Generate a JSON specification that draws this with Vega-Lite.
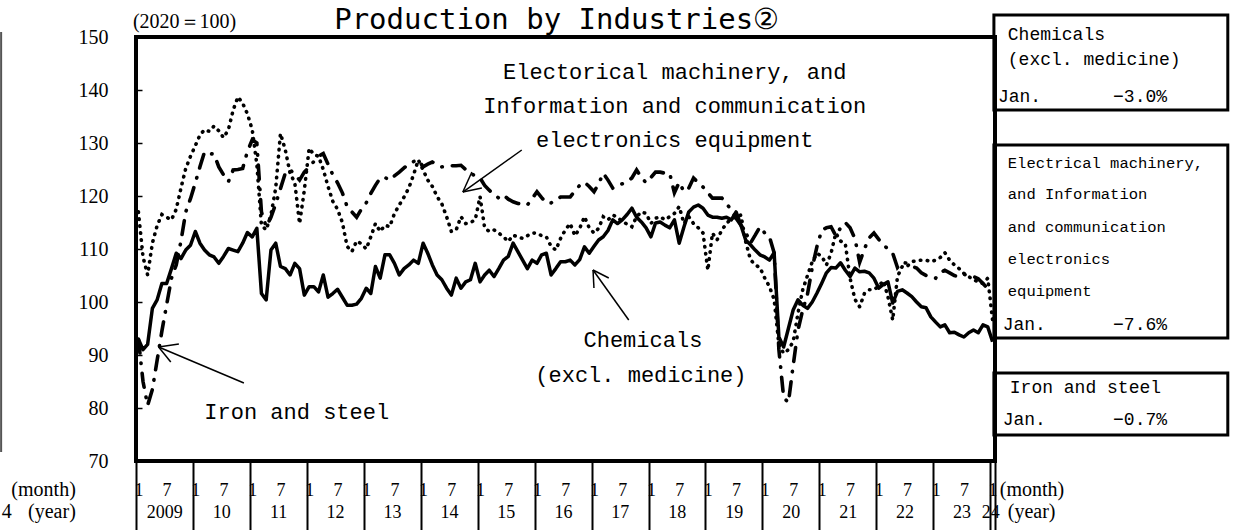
{
"$schema":"https://vega.github.io/schema/vega-lite/v6.json",
"autosize":"none",
"width":859,"height":424,
"padding":{"left":136,"top":37,"right":238,"bottom":69},
"background":"white",
"config":{"view":{"stroke":"black","strokeWidth":4},"axis":{"labelFont":"Liberation Serif","labelColor":"black","grid":false,"domain":false}},
"datasets":{
"series":[
{"date":"2009-01","chem":93,"elec":117,"iron":93},{"date":"2009-02","chem":91,"elec":108.5,"iron":85},{"date":"2009-03","chem":92,"elec":105.1,"iron":80.5},{"date":"2009-04","chem":98.8,"elec":111.1,"iron":83.5},{"date":"2009-05","chem":100.4,"elec":114.4,"iron":89},{"date":"2009-06","chem":103.5,"elec":116.5,"iron":94.5},{"date":"2009-07","chem":103.5,"elec":116,"iron":99.5},{"date":"2009-08","chem":106.3,"elec":115.5,"iron":104.5},{"date":"2009-09","chem":109.2,"elec":117.5,"iron":107},{"date":"2009-10","chem":108.2,"elec":121.5,"iron":111.5},{"date":"2009-11","chem":109.8,"elec":125.2,"iron":117},{"date":"2009-12","chem":110.7,"elec":127.5,"iron":119.5},
{"date":"2010-01","chem":113.3,"elec":129.5,"iron":122.5},{"date":"2010-02","chem":111.1,"elec":131.5,"iron":125.5},{"date":"2010-03","chem":109.8,"elec":132.5,"iron":128.3},{"date":"2010-04","chem":108.9,"elec":132.2,"iron":128},{"date":"2010-05","chem":108.5,"elec":133.2,"iron":127.9},{"date":"2010-06","chem":107.3,"elec":132.3,"iron":125.5},{"date":"2010-07","chem":108.6,"elec":131,"iron":124},{"date":"2010-08","chem":110.1,"elec":132.5,"iron":122.7},{"date":"2010-09","chem":109.8,"elec":136.2,"iron":124.9},{"date":"2010-10","chem":109.5,"elec":138.7,"iron":125},{"date":"2010-11","chem":111.1,"elec":137.5,"iron":125.2},{"date":"2010-12","chem":113.1,"elec":135.5,"iron":128.4},
{"date":"2011-01","chem":112.3,"elec":132.5,"iron":130.6},{"date":"2011-02","chem":113.9,"elec":126,"iron":130},{"date":"2011-03","chem":101.6,"elec":114.5,"iron":117},{"date":"2011-04","chem":100.4,"elec":113.6,"iron":114.2},{"date":"2011-05","chem":109.8,"elec":116.4,"iron":116},{"date":"2011-06","chem":111.1,"elec":121.5,"iron":118.5},{"date":"2011-07","chem":106.7,"elec":131.8,"iron":121.4},{"date":"2011-08","chem":106.3,"elec":128.7,"iron":124.3},{"date":"2011-09","chem":105.1,"elec":124.3,"iron":125},{"date":"2011-10","chem":107.3,"elec":122.5,"iron":124},{"date":"2011-11","chem":106.3,"elec":114.8,"iron":123},{"date":"2011-12","chem":101.3,"elec":121.1,"iron":124.5},
{"date":"2012-01","chem":102.9,"elec":129,"iron":125.5},{"date":"2012-02","chem":102.9,"elec":127.8,"iron":126.5},{"date":"2012-03","chem":101.9,"elec":127.5,"iron":127.5},{"date":"2012-04","chem":105.1,"elec":125,"iron":128},{"date":"2012-05","chem":100.9,"elec":121.8,"iron":126},{"date":"2012-06","chem":101.6,"elec":119,"iron":124},{"date":"2012-07","chem":102.4,"elec":117.5,"iron":122.5},{"date":"2012-08","chem":100.9,"elec":115,"iron":120.6},{"date":"2012-09","chem":99.4,"elec":110.5,"iron":118},{"date":"2012-10","chem":99.4,"elec":109.5,"iron":117},{"date":"2012-11","chem":99.6,"elec":111.5,"iron":116},{"date":"2012-12","chem":100.7,"elec":111,"iron":117.5},
{"date":"2013-01","chem":102.6,"elec":110,"iron":118.7},{"date":"2013-02","chem":101.6,"elec":112.3,"iron":120.5},{"date":"2013-03","chem":106.7,"elec":114.8,"iron":122},{"date":"2013-04","chem":104.5,"elec":113.3,"iron":123.4},{"date":"2013-05","chem":108.9,"elec":114.5,"iron":123.5},{"date":"2013-06","chem":108.9,"elec":114.2,"iron":123},{"date":"2013-07","chem":107.3,"elec":116.7,"iron":123.8},{"date":"2013-08","chem":105.1,"elec":118.3,"iron":124.5},{"date":"2013-09","chem":106.3,"elec":119.8,"iron":125.3},{"date":"2013-10","chem":107,"elec":121.5,"iron":126},{"date":"2013-11","chem":107.9,"elec":124,"iron":126.5},{"date":"2013-12","chem":107.3,"elec":126.8,"iron":126.8},
{"date":"2014-01","chem":111.1,"elec":124.9,"iron":125.5},{"date":"2014-02","chem":109.2,"elec":123,"iron":126},{"date":"2014-03","chem":107,"elec":121.8,"iron":126.4},{"date":"2014-04","chem":105.1,"elec":119.9,"iron":126},{"date":"2014-05","chem":104.2,"elec":118.5,"iron":125.5},{"date":"2014-06","chem":102.6,"elec":116.1,"iron":125.6},{"date":"2014-07","chem":101.3,"elec":113.3,"iron":125.7},{"date":"2014-08","chem":104.5,"elec":113.6,"iron":125.7},{"date":"2014-09","chem":102.6,"elec":116.1,"iron":125.8},{"date":"2014-10","chem":103.8,"elec":114.8,"iron":125},{"date":"2014-11","chem":104.2,"elec":115,"iron":124.3},{"date":"2014-12","chem":107.3,"elec":115.5,"iron":123.8},
{"date":"2015-01","chem":103.8,"elec":119.9,"iron":123.4},{"date":"2015-02","chem":105.1,"elec":114,"iron":122},{"date":"2015-03","chem":106,"elec":113.3,"iron":121.1},{"date":"2015-04","chem":104.8,"elec":113.6,"iron":120.3},{"date":"2015-05","chem":106.3,"elec":113,"iron":119.6},{"date":"2015-06","chem":107.9,"elec":112.3,"iron":120.2},{"date":"2015-07","chem":108.6,"elec":111.4,"iron":119.4},{"date":"2015-08","chem":111.1,"elec":112.6,"iron":118.9},{"date":"2015-09","chem":109.5,"elec":112.3,"iron":118.6},{"date":"2015-10","chem":107.9,"elec":112,"iron":118.4},{"date":"2015-11","chem":106.3,"elec":112.5,"iron":118.3},{"date":"2015-12","chem":107.9,"elec":113,"iron":119.5},
{"date":"2016-01","chem":107.3,"elec":113,"iron":120.8},{"date":"2016-02","chem":108.9,"elec":112.5,"iron":119.7},{"date":"2016-03","chem":109.2,"elec":112.3,"iron":118.7},{"date":"2016-04","chem":105.1,"elec":110.5,"iron":118.7},{"date":"2016-05","chem":106.3,"elec":109.8,"iron":119.3},{"date":"2016-06","chem":107.6,"elec":112,"iron":119.8},{"date":"2016-07","chem":107.6,"elec":113.6,"iron":119.8},{"date":"2016-08","chem":107.9,"elec":114.8,"iron":119.8},{"date":"2016-09","chem":107,"elec":112.5,"iron":121},{"date":"2016-10","chem":108,"elec":113.9,"iron":122},{"date":"2016-11","chem":110.4,"elec":116.1,"iron":122.6},{"date":"2016-12","chem":109.2,"elec":114,"iron":121.8},
{"date":"2017-01","chem":110.5,"elec":113,"iron":120.8},{"date":"2017-02","chem":111.7,"elec":113.9,"iron":122.3},{"date":"2017-03","chem":112.3,"elec":116.1,"iron":124.3},{"date":"2017-04","chem":113.5,"elec":115.5,"iron":123},{"date":"2017-05","chem":115.5,"elec":116.4,"iron":121.5},{"date":"2017-06","chem":114.8,"elec":116,"iron":121.9},{"date":"2017-07","chem":115.5,"elec":115.2,"iron":122.3},{"date":"2017-08","chem":116.5,"elec":114.7,"iron":122.7},{"date":"2017-09","chem":117.7,"elec":114.2,"iron":123.4},{"date":"2017-10","chem":116,"elec":116.1,"iron":124.9},{"date":"2017-11","chem":115.1,"elec":117,"iron":123.5},{"date":"2017-12","chem":114,"elec":116.7,"iron":122.5},
{"date":"2018-01","chem":112.3,"elec":114.8,"iron":123.5},{"date":"2018-02","chem":114.9,"elec":115.8,"iron":124.5},{"date":"2018-03","chem":115.1,"elec":116.1,"iron":124.5},{"date":"2018-04","chem":114.5,"elec":115.5,"iron":124.3},{"date":"2018-05","chem":114,"elec":116.1,"iron":124.3},{"date":"2018-06","chem":115.5,"elec":116.7,"iron":120.6},{"date":"2018-07","chem":111.1,"elec":118,"iron":122.6},{"date":"2018-08","chem":114.2,"elec":114.8,"iron":120.8},{"date":"2018-09","chem":117,"elec":116.1,"iron":121.5},{"date":"2018-10","chem":117.9,"elec":114.8,"iron":123.4},{"date":"2018-11","chem":118.3,"elec":114,"iron":122.5},{"date":"2018-12","chem":117.7,"elec":113,"iron":121.7},
{"date":"2019-01","chem":116.4,"elec":106,"iron":120.6},{"date":"2019-02","chem":116,"elec":113,"iron":119.6},{"date":"2019-03","chem":116,"elec":111.7,"iron":119.6},{"date":"2019-04","chem":115.8,"elec":113.6,"iron":119.6},{"date":"2019-05","chem":116,"elec":114.8,"iron":118.5},{"date":"2019-06","chem":115.5,"elec":115.8,"iron":117.4},{"date":"2019-07","chem":117,"elec":116,"iron":115.8},{"date":"2019-08","chem":114.5,"elec":116.4,"iron":114.5},{"date":"2019-09","chem":111.7,"elec":111.4,"iron":113.2},{"date":"2019-10","chem":110.8,"elec":108,"iron":111.1},{"date":"2019-11","chem":109.8,"elec":107,"iron":112.6},{"date":"2019-12","chem":108.9,"elec":106.5,"iron":114.2},
{"date":"2020-01","chem":108.5,"elec":104.5,"iron":113},{"date":"2020-02","chem":107.9,"elec":102.9,"iron":112.3},{"date":"2020-03","chem":109.3,"elec":100.5,"iron":109.3},{"date":"2020-04","chem":93.4,"elec":92,"iron":91},{"date":"2020-05","chem":91.5,"elec":90.3,"iron":82},{"date":"2020-06","chem":95,"elec":91,"iron":81},{"date":"2020-07","chem":98.5,"elec":92.5,"iron":88},{"date":"2020-08","chem":100.4,"elec":97.9,"iron":94.7},{"date":"2020-09","chem":99.4,"elec":102.3,"iron":98.5},{"date":"2020-10","chem":98.8,"elec":105,"iron":101.5},{"date":"2020-11","chem":100,"elec":107.6,"iron":106.5},{"date":"2020-12","chem":101.7,"elec":109.2,"iron":110.5},
{"date":"2021-01","chem":103.6,"elec":108.6,"iron":113.6},{"date":"2021-02","chem":105.5,"elec":107,"iron":114},{"date":"2021-03","chem":106.5,"elec":109.2,"iron":114.2},{"date":"2021-04","chem":106.4,"elec":113,"iron":112.5},{"date":"2021-05","chem":107.4,"elec":111.5,"iron":114},{"date":"2021-06","chem":106,"elec":111,"iron":115},{"date":"2021-07","chem":104.8,"elec":104.5,"iron":114},{"date":"2021-08","chem":106.4,"elec":100.5,"iron":112},{"date":"2021-09","chem":105.7,"elec":99.1,"iron":107.5},{"date":"2021-10","chem":105.8,"elec":101.6,"iron":110},{"date":"2021-11","chem":105.5,"elec":102.3,"iron":112.1},{"date":"2021-12","chem":104.5,"elec":102.3,"iron":113},
{"date":"2022-01","chem":102.6,"elec":103,"iron":111.8},{"date":"2022-02","chem":103.3,"elec":104,"iron":110.8},{"date":"2022-03","chem":103.8,"elec":101,"iron":110},{"date":"2022-04","chem":99.8,"elec":96.6,"iron":109.2},{"date":"2022-05","chem":102,"elec":104.8,"iron":106.5},{"date":"2022-06","chem":102.3,"elec":106.7,"iron":107.5},{"date":"2022-07","chem":101.7,"elec":106.7,"iron":107.3},{"date":"2022-08","chem":101,"elec":107.6,"iron":106.8},{"date":"2022-09","chem":100,"elec":107.8,"iron":106.4},{"date":"2022-10","chem":99.1,"elec":107.9,"iron":105.5},{"date":"2022-11","chem":98.9,"elec":107.9,"iron":105},{"date":"2022-12","chem":97.2,"elec":107.6,"iron":104.7},
{"date":"2023-01","chem":96.2,"elec":107.9,"iron":104.5},{"date":"2023-02","chem":95.3,"elec":108.4,"iron":105.5},{"date":"2023-03","chem":95.7,"elec":109.3,"iron":106},{"date":"2023-04","chem":94.2,"elec":107.9,"iron":105.5},{"date":"2023-05","chem":94.3,"elec":107,"iron":105},{"date":"2023-06","chem":93.8,"elec":106.3,"iron":104.7},{"date":"2023-07","chem":93.4,"elec":105.4,"iron":105.2},{"date":"2023-08","chem":94.2,"elec":104.8,"iron":105},{"date":"2023-09","chem":94.7,"elec":104.2,"iron":104.8},{"date":"2023-10","chem":94.2,"elec":103.8,"iron":104.4},{"date":"2023-11","chem":95.7,"elec":103.5,"iron":103.5},{"date":"2023-12","chem":95.3,"elec":104.5,"iron":102.5},
{"date":"2024-01","chem":92.5,"elec":96.6,"iron":101.8}
],
"arrows":[
{"date":"2015-10-11","value":128.68,"date2":"2014-09-28","value2":120.75},
{"date":"2015-01-28","value":121.51,"date2":"2014-09-28","value2":120.75},
{"date":"2014-11-25","value":124.53,"date2":"2014-09-28","value2":120.75},
{"date":"2017-08-27","value":96.6,"date2":"2017-01-10","value2":106.04},
{"date":"2017-04-21","value":104.53,"date2":"2017-01-10","value2":106.04},
{"date":"2017-01-16","value":102.64,"date2":"2017-01-10","value2":106.04},
{"date":"2010-11-24","value":84.72,"date2":"2009-05-26","value2":91.51},
{"date":"2009-10-03","value":92.08,"date2":"2009-05-26","value2":91.51},
{"date":"2009-08-12","value":88.68,"date2":"2009-05-26","value2":91.51}
],
"notes":[
{"date":"2018-06-18","value":143.4,"label":"Electorical machinery, and"},
{"date":"2018-06-18","value":136.98,"label":"Information and communication"},
{"date":"2018-06-18","value":130.57,"label":"electronics equipment"},
{"date":"2017-11-26","value":92.83,"label":"Chemicals"},
{"date":"2017-11-13","value":86.23,"label":"(excl. medicine)"},
{"date":"2011-10-29","value":79.25,"label":"Iron and steel"}
],
"heading":[
{"date":"2016-05-22","value":153.3,"label":"Production by Industries②"}
],
"boxes":[
{"date":"2024-01-25","date2":"2028-03-04","value":154.15,"value2":136.23},
{"date":"2024-01-25","date2":"2028-03-04","value":129.62,"value2":93.21},
{"date":"2024-01-25","date2":"2028-03-04","value":86.6,"value2":74.91}
],
"boxbig":[
{"date":"2024-04-23","value":150.38,"label":"Chemicals"},
{"date":"2024-04-23","value":145.66,"label":"(excl. medicine)"},
{"date":"2024-02-20","value":138.68,"label":"Jan."},
{"date":"2026-02-27","value":138.68,"label":"−3.0%"},
{"date":"2024-03-21","value":95.66,"label":"Jan."},
{"date":"2026-02-27","value":95.66,"label":"−7.6%"},
{"date":"2024-05-06","value":83.77,"label":"Iron and steel"},
{"date":"2024-03-21","value":77.74,"label":"Jan."},
{"date":"2026-02-27","value":77.74,"label":"−0.7%"}
],
"boxsmall":[
{"date":"2024-04-23","value":126.23,"label":"Electrical machinery,"},
{"date":"2024-04-23","value":120.38,"label":"and Information"},
{"date":"2024-04-23","value":114.15,"label":"and communication"},
{"date":"2024-04-23","value":108.11,"label":"electronics"},
{"date":"2024-04-23","value":102.08,"label":"equipment"}
],
"sideR":[
{"date":"2007-12-12","value":64.53,"label":"(month)"},
{"date":"2007-12-12","value":60.38,"label":"(year)"}
],
"sideL":[
{"date":"2024-03-03","value":64.53,"label":"(month)"},
{"date":"2024-04-23","value":60.38,"label":"(year)"},
{"date":"2008-12-12","value":152.83,"label":"(2020＝100)"},
{"date":"2006-08-24","value":60.38,"label":"4"}
],
"edge":[
{"date":"2006-08-20","value":150.94,"value2":71.7}
]
},
"layer":[
{"data":{"name":"series"},
 "mark":{"type":"line","color":"black","strokeWidth":3.5,"strokeJoin":"round"},
 "encoding":{
  "x":{"field":"date","type":"temporal","timeUnit":"utcyearmonth","bandPosition":0.5,
   "scale":{"type":"utc","domain":[{"year":2009,"month":1,"date":1,"utc":true},{"year":2024,"month":2,"date":1,"utc":true}]},
   "axis":{"orient":"bottom","title":null,"ticks":false,"domain":false,"grid":false,"tickCount":{"interval":"month","step":6},
    "labelExpr":"utcmonth(datum.value)==0 ? '1' : '7'",
    "labelFontSize":18,"labelPadding":20,"labelOffset":2.4,"labelOverlap":false,"labelFlush":false,"labelBound":false}},
  "y":{"field":"chem","type":"quantitative","scale":{"domain":[70,150]},
   "axis":{"orient":"left","title":null,"values":[70,80,90,100,110,120,130,140,150],"ticks":true,"tickSize":-6,"tickWidth":1.5,"tickColor":"black","domain":false,"grid":false,"labels":true,"labelFontSize":20,"labelPadding":34,"labelFont":"Liberation Serif","labelColor":"black"}}}},
{"data":{"name":"series"},
 "mark":{"type":"line","color":"black","strokeWidth":3.6,"strokeDash":[0.5,6.5],"strokeCap":"round"},
 "encoding":{
  "x":{"field":"date","type":"temporal","timeUnit":"utcyearmonth","bandPosition":0.5,
   "axis":{"orient":"bottom","title":null,"labels":false,"domain":false,"grid":false,"tickSize":69,"tickWidth":2,"tickColor":"black",
    "values":[{"year":2009,"month":1,"date":1,"utc":true},{"year":2010,"month":1,"date":1,"utc":true},{"year":2011,"month":1,"date":1,"utc":true},{"year":2012,"month":1,"date":1,"utc":true},{"year":2013,"month":1,"date":1,"utc":true},{"year":2014,"month":1,"date":1,"utc":true},{"year":2015,"month":1,"date":1,"utc":true},{"year":2016,"month":1,"date":1,"utc":true},{"year":2017,"month":1,"date":1,"utc":true},{"year":2018,"month":1,"date":1,"utc":true},{"year":2019,"month":1,"date":1,"utc":true},{"year":2020,"month":1,"date":1,"utc":true},{"year":2021,"month":1,"date":1,"utc":true},{"year":2022,"month":1,"date":1,"utc":true},{"year":2023,"month":1,"date":1,"utc":true},{"year":2024,"month":1,"date":1,"utc":true},{"year":2024,"month":2,"date":1,"utc":true}]}},
  "y":{"field":"elec","type":"quantitative"}}},
{"data":{"name":"series"},
 "mark":{"type":"line","color":"black","strokeWidth":3.6,"strokeDash":[14,10,0.5,10],"strokeCap":"round"},
 "encoding":{
  "x":{"field":"date","type":"temporal","timeUnit":"utcyearmonth","bandPosition":0.5,
   "axis":{"orient":"bottom","title":null,"ticks":false,"domain":false,"grid":false,"tickCount":{"interval":"month","step":6},
    "labelExpr":"utcmonth(datum.value)==6 ? (utcyear(datum.value)==2009 ? '2009' : utcFormat(datum.value,'%y')) : (utcyear(datum.value)==2024 ? '24' : '')",
    "labelFontSize":18,"labelPadding":42,"labelOverlap":false,"labelFlush":false,"labelBound":false}},
  "y":{"field":"iron","type":"quantitative"}}},
{"data":{"name":"arrows"},
 "mark":{"type":"rule","color":"black","strokeWidth":1.5},
 "encoding":{"x":{"field":"date","type":"temporal","axis":null},"x2":{"field":"date2"},"y":{"field":"value","type":"quantitative"},"y2":{"field":"value2"}}},
{"data":{"name":"notes"},
 "mark":{"type":"text","font":"Liberation Mono","fontSize":22,"align":"center","baseline":"middle","color":"black"},
 "encoding":{"x":{"field":"date","type":"temporal","axis":null},"y":{"field":"value","type":"quantitative"},"text":{"field":"label"}}},
{"data":{"name":"heading"},
 "mark":{"type":"text","font":"DejaVu Sans Mono","fontSize":29,"align":"center","baseline":"middle","color":"black"},
 "encoding":{"x":{"field":"date","type":"temporal","axis":null},"y":{"field":"value","type":"quantitative"},"text":{"field":"label"}}},
{"data":{"name":"boxes"},
 "mark":{"type":"rect","color":"black","filled":false,"strokeWidth":3},
 "encoding":{"x":{"field":"date","type":"temporal","axis":null},"x2":{"field":"date2"},"y":{"field":"value","type":"quantitative"},"y2":{"field":"value2"}}},
{"data":{"name":"boxbig"},
 "mark":{"type":"text","font":"Liberation Mono","fontSize":18,"align":"left","baseline":"middle","color":"black"},
 "encoding":{"x":{"field":"date","type":"temporal","axis":null},"y":{"field":"value","type":"quantitative"},"text":{"field":"label"}}},
{"data":{"name":"boxsmall"},
 "mark":{"type":"text","font":"Liberation Mono","fontSize":15.5,"align":"left","baseline":"middle","color":"black"},
 "encoding":{"x":{"field":"date","type":"temporal","axis":null},"y":{"field":"value","type":"quantitative"},"text":{"field":"label"}}},
{"data":{"name":"sideR"},
 "mark":{"type":"text","font":"Liberation Serif","fontSize":20,"align":"right","baseline":"middle","color":"black"},
 "encoding":{"x":{"field":"date","type":"temporal","axis":null},"y":{"field":"value","type":"quantitative"},"text":{"field":"label"}}},
{"data":{"name":"sideL"},
 "mark":{"type":"text","font":"Liberation Serif","fontSize":20,"align":"left","baseline":"middle","color":"black"},
 "encoding":{"x":{"field":"date","type":"temporal","axis":null},"y":{"field":"value","type":"quantitative"},"text":{"field":"label"}}},
{"data":{"name":"edge"},
 "mark":{"type":"rule","color":"#555555","strokeWidth":2},
 "encoding":{"x":{"field":"date","type":"temporal","axis":null},"y":{"field":"value","type":"quantitative"},"y2":{"field":"value2"}}}
],
"resolve":{"axis":{"x":"independent"}}
}
